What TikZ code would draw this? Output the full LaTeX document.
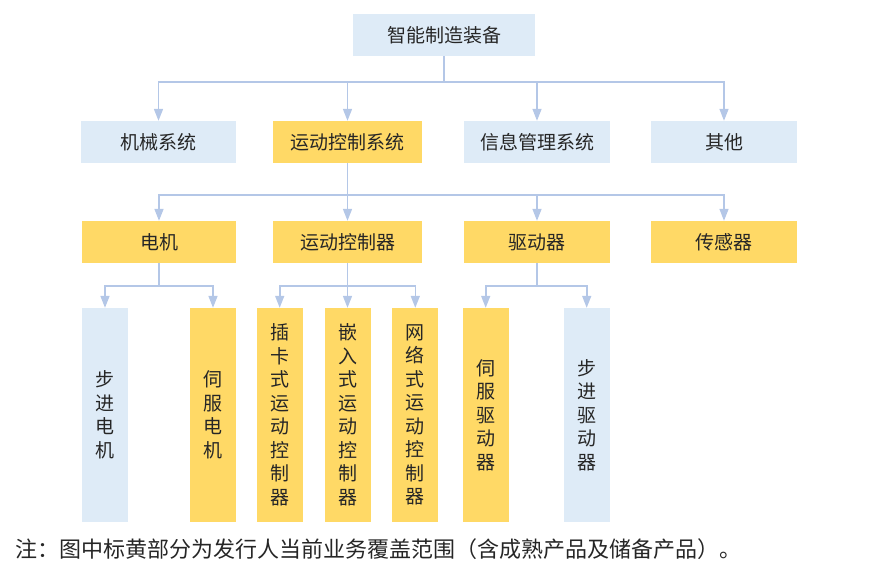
\documentclass[tikz,border=0pt]{standalone}
\usepackage{fontspec}
\setmainfont{Noto Sans CJK SC}
\usetikzlibrary{arrows.meta}
\definecolor{bluebox}{RGB}{222,235,247}
\definecolor{yelbox}{RGB}{255,217,102}
\definecolor{linec}{RGB}{180,199,231}
\definecolor{txt}{RGB}{38,38,38}
\begin{document}
\begin{tikzpicture}[x=1pt,y=-1pt,
  box/.style={inner sep=0pt, text=txt, font=\fontsize{19}{23.5}\selectfont, align=center},
  bbox/.style={box, fill=bluebox},
  ybox/.style={box, fill=yelbox},
  hbox/.style={minimum height=42pt},
  vbox/.style={minimum width=46pt, minimum height=214pt},
  conn/.style={draw=linec, line width=1.6pt},
  arr/.style={conn, -{Triangle[length=12pt,width=9pt]}}
]
\useasboundingbox (0,0) rectangle (872,575);
% level 1
\node[bbox, hbox, minimum width=182pt] (top) at (444,35) {智能制造装备};
% level 2
\node[bbox, hbox, minimum width=155pt] (jx) at (158.5,142) {机械系统};
\node[ybox, hbox, minimum width=149pt] (ydxt) at (347.5,142) {运动控制系统};
\node[bbox, hbox, minimum width=146pt] (xx) at (537,142) {信息管理系统};
\node[bbox, hbox, minimum width=146pt] (qt) at (724,142) {其他};
% level 3
\node[ybox, hbox, minimum width=154pt] (dj) at (159,242) {电机};
\node[ybox, hbox, minimum width=149pt] (kzq) at (347.5,242) {运动控制器};
\node[ybox, hbox, minimum width=146pt] (qdq) at (537,242) {驱动器};
\node[ybox, hbox, minimum width=146pt] (cgq) at (724,242) {传感器};
% level 4
\node[bbox, vbox] (bjdj) at (105,415) {步\\进\\电\\机};
\node[ybox, vbox] (sfdj) at (213,415) {伺\\服\\电\\机};
\node[ybox, vbox] (ck) at (279.7,415) {插\\卡\\式\\运\\动\\控\\制\\器};
\node[ybox, vbox] (qr) at (347.5,415) {嵌\\入\\式\\运\\动\\控\\制\\器};
\node[ybox, vbox] (wl) at (415.3,415) {网\\络\\式\\运\\动\\控\\制\\器};
\node[ybox, vbox] (sfqd) at (485.7,415) {伺\\服\\驱\\动\\器};
\node[bbox, vbox] (bjqd) at (586.7,415) {步\\进\\驱\\动\\器};
% note
\node[anchor=west, inner sep=0pt, text=txt, font=\fontsize{22}{24}\selectfont] (note) at (15,549) {注：图中标黄部分为发行人当前业务覆盖范围（含成熟产品及储备产品）。};
% connectors level 1 -> 2
\foreach \c in {jx,ydxt,xx,qt} \draw[arr] (top.south) -- ++(0,26) -| (\c.north);
% level 2 -> 3
\foreach \c in {dj,kzq,qdq,cgq} \draw[arr] (ydxt.south) -- ++(0,32) -| (\c.north);
% level 3 -> 4
\foreach \c in {bjdj,sfdj} \draw[arr] (dj.south) -- ++(0,23) -| (\c.north);
\foreach \c in {ck,qr,wl} \draw[arr] (kzq.south) -- ++(0,23) -| (\c.north);
\foreach \c in {sfqd,bjqd} \draw[arr] (qdq.south) -- ++(0,23) -| (\c.north);
\end{tikzpicture}
\end{document}
